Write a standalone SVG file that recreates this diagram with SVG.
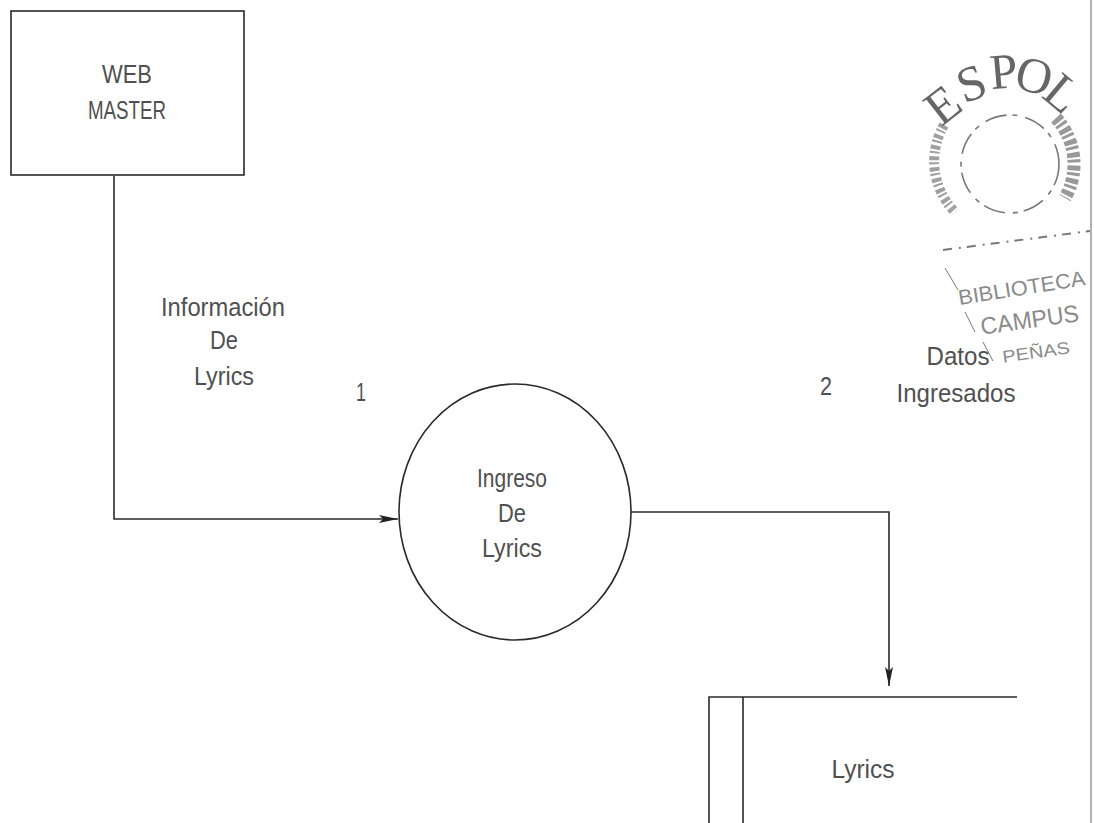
<svg xmlns="http://www.w3.org/2000/svg" width="1094" height="823" viewBox="0 0 1094 823">
<defs>
<marker id="arr" markerUnits="userSpaceOnUse" markerWidth="20" markerHeight="10" refX="19" refY="5" orient="auto"><path d="M0 1 L19 5 L0 9 L4 5 Z" fill="#222"/></marker>
</defs>
<style>
text{font-family:"Liberation Sans",Arial,sans-serif;font-size:26px;fill:#505050;text-anchor:middle}
.l{fill:none;stroke:#2a2a2a;stroke-width:1.6}
.s{fill:none;stroke:#777}
.st{fill:#8a8a8a;font-size:24px}
.e{font-family:"Liberation Serif",serif;font-size:50px;fill:#666}
</style>
<rect width="1094" height="823" fill="#fff"/>
<line x1="1091" y1="0" x2="1091" y2="823" stroke="#999" stroke-width="1.5"/>
<g id="connectors">
<path class="l" d="M114 176 V519 H398" marker-end="url(#arr)"/>
<path class="l" d="M631 512 H889 V686" marker-end="url(#arr)"/>
</g>
<g id="web-master">
<rect class="l" x="11" y="11" width="233" height="164" stroke-width="2"/>
<text x="127" y="83" textLength="50" lengthAdjust="spacingAndGlyphs">WEB</text>
<text x="127" y="119" textLength="78" lengthAdjust="spacingAndGlyphs">MASTER</text>
</g>
<g id="ingreso">
<ellipse class="l" cx="515" cy="512" rx="116" ry="128"/>
<text x="512" y="487" textLength="70" lengthAdjust="spacingAndGlyphs">Ingreso</text>
<text x="512" y="522" textLength="28" lengthAdjust="spacingAndGlyphs">De</text>
<text x="512" y="557" textLength="60" lengthAdjust="spacingAndGlyphs">Lyrics</text>
</g>
<g id="lyrics-store">
<path class="l" d="M1017 697 H709 V823 M743 697 V823"/>
<text x="863" y="778" textLength="63" lengthAdjust="spacingAndGlyphs">Lyrics</text>
</g>
<g id="labels">
<text x="223" y="316" textLength="124" lengthAdjust="spacingAndGlyphs">Información</text>
<text x="224" y="349" textLength="28" lengthAdjust="spacingAndGlyphs">De</text>
<text x="224" y="385" textLength="60" lengthAdjust="spacingAndGlyphs">Lyrics</text>
<text x="361" y="401" textLength="10" lengthAdjust="spacingAndGlyphs">1</text>
<text x="826" y="395" textLength="12" lengthAdjust="spacingAndGlyphs">2</text>
<text x="958" y="365" textLength="63" lengthAdjust="spacingAndGlyphs">Datos</text>
<text x="956" y="402" textLength="119" lengthAdjust="spacingAndGlyphs">Ingresados</text>
</g>
<g id="stamp">
<text class="e" transform="translate(953 118) rotate(-38)">E</text>
<text class="e" transform="translate(977 99) rotate(-20)">S</text>
<text class="e" transform="translate(1005 88) rotate(-5)">P</text>
<text class="e" transform="translate(1030 92) rotate(15)">O</text>
<text class="e" transform="translate(1052 106) rotate(40)">L</text>
<circle class="s" cx="1010" cy="164" r="49" stroke-width="1.6" stroke-dasharray="22 6 5 8"/>
<path class="s" d="M944 125 A72 72 0 0 0 955 212" stroke-width="10" stroke-dasharray="4 2 2 3" opacity=".7"/>
<path class="s" d="M1056 118 A68 68 0 0 1 1065 198" stroke-width="13" stroke-dasharray="5 2 3 3" opacity=".75"/>
<path class="s" d="M943 250 L1090 231" stroke-width="2" stroke-dasharray="9 7 2 6"/>
<path class="s" d="M945 268 L958 290 M965 312 L975 332 M983 342 L993 361" stroke-width="1"/>
<text class="st" x="1022" y="295" transform="rotate(-9 1022 290)" style="font-size:21px" textLength="128" lengthAdjust="spacingAndGlyphs">BIBLIOTECA</text>
<text class="st" x="1030" y="328" transform="rotate(-8 1030 322)" textLength="99" lengthAdjust="spacingAndGlyphs">CAMPUS</text>
<text class="st" x="1036" y="358" transform="rotate(-8 1036 352)" style="font-size:17px" textLength="68" lengthAdjust="spacingAndGlyphs">PEÑAS</text>
</g>
</svg>
